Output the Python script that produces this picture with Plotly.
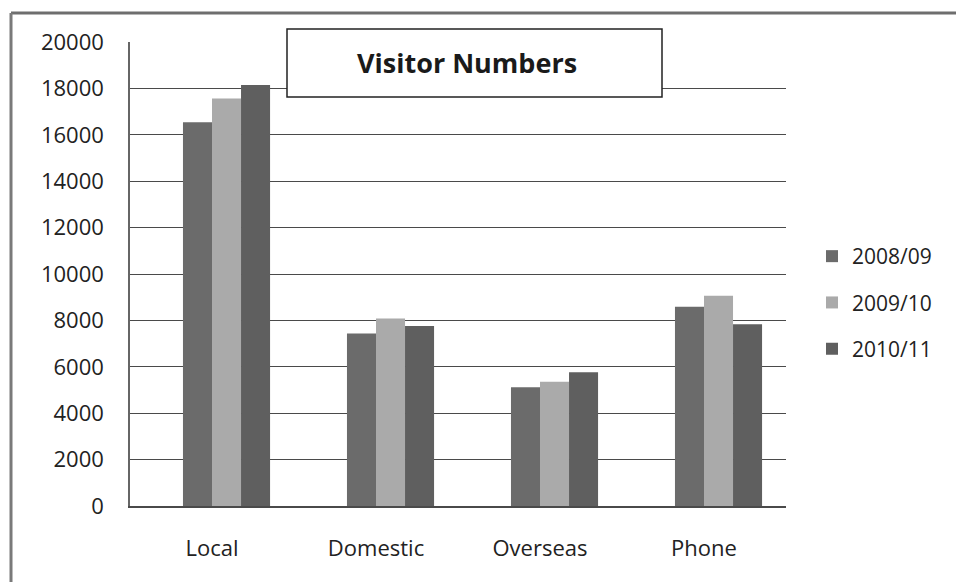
import plotly.graph_objects as go

# Visitor counts by source, per financial year
categories = ["Local", "Domestic", "Overseas", "Phone"]
years = ["2008/09", "2009/10", "2010/11"]
visitors_2008_09 = [16540, 7440, 5120, 8590]
visitors_2009_10 = [17560, 8080, 5360, 9060]
visitors_2010_11 = [18150, 7760, 5760, 7830]
y_ticks = [0, 2000, 4000, 6000, 8000, 10000, 12000, 14000, 16000, 18000, 20000]

series = [visitors_2008_09, visitors_2009_10, visitors_2010_11]
colors = ["#6b6b6b", "#aaaaaa", "#5f5f5f"]

W, H = 956, 582
M_L, M_R, M_T, M_B = 130, 170, 42, 76
plot_w = W - M_L - M_R
plot_h = H - M_T - M_B


def px_x(x):
    return (x - M_L) / plot_w


def px_y(y):
    return (H - M_B - y) / plot_h


# bars sit in slots 2-4 of a four-slot group centred on each category
BAR_W = 0.177
offsets = [-BAR_W, 0.0, BAR_W]

fig = go.Figure()
for i, (name, vals, col) in enumerate(zip(years, series, colors)):
    fig.add_trace(go.Bar(
        x=categories, y=vals, name=name,
        width=BAR_W, offset=offsets[i],
        marker=dict(color=col, line=dict(width=0)),
        legendgroup=name,
    ))

font_main = "Open Sans, Noto Sans, sans-serif"

fig.update_layout(
    width=W, height=H,
    margin=dict(l=M_L, r=M_R, t=M_T, b=M_B),
    paper_bgcolor="white", plot_bgcolor="white",
    barmode="overlay",
    font=dict(family=font_main, size=21, color="#222222"),
    showlegend=True,
    legend=dict(
        x=px_x(812), y=px_y(236), xanchor="left", yanchor="top",
        font=dict(size=21, color="#222222"),
        itemsizing="constant", tracegroupgap=16, itemwidth=30,
        bgcolor="rgba(0,0,0,0)",
    ),
    xaxis=dict(
        showgrid=False, showline=True, linecolor="#4a4a4a", linewidth=1.5,
        ticks="", ticklabelstandoff=22, range=[-0.5, 3.5],
        tickfont=dict(size=22, color="#222222"),
    ),
    yaxis=dict(
        range=[0, 20000], tickvals=y_ticks,
        ticktext=[str(v) for v in y_ticks],
        showgrid=True, gridcolor="#4a4a4a", gridwidth=1.3,
        showline=True, linecolor="#666666", linewidth=1.5,
        zeroline=False, ticks="", ticklabelstandoff=20,
        tickfont=dict(size=22, color="#222222"),
    ),
    shapes=[
        # outer chart frame (top and left edges)
        dict(type="line", xref="paper", yref="paper",
             x0=px_x(11), x1=px_x(956), y0=px_y(13), y1=px_y(13),
             line=dict(color="#6e6e6e", width=3)),
        dict(type="line", xref="paper", yref="paper",
             x0=px_x(11), x1=px_x(11), y0=px_y(13), y1=px_y(582),
             line=dict(color="#7a7a7a", width=3)),
        # title box
        dict(type="rect", xref="paper", yref="paper",
             x0=px_x(287), x1=px_x(662), y0=px_y(97), y1=px_y(29),
             fillcolor="white", line=dict(color="#222222", width=1.5),
             layer="above"),
    ],
    annotations=[
        dict(
            text="<b>Visitor Numbers</b>", xref="paper", yref="paper",
            x=px_x(467), y=px_y(63), xanchor="center", yanchor="middle",
            showarrow=False, font=dict(size=27, color="#1a1a1a", family=font_main),
        ),
    ],
)

fig.write_html("out.html")
